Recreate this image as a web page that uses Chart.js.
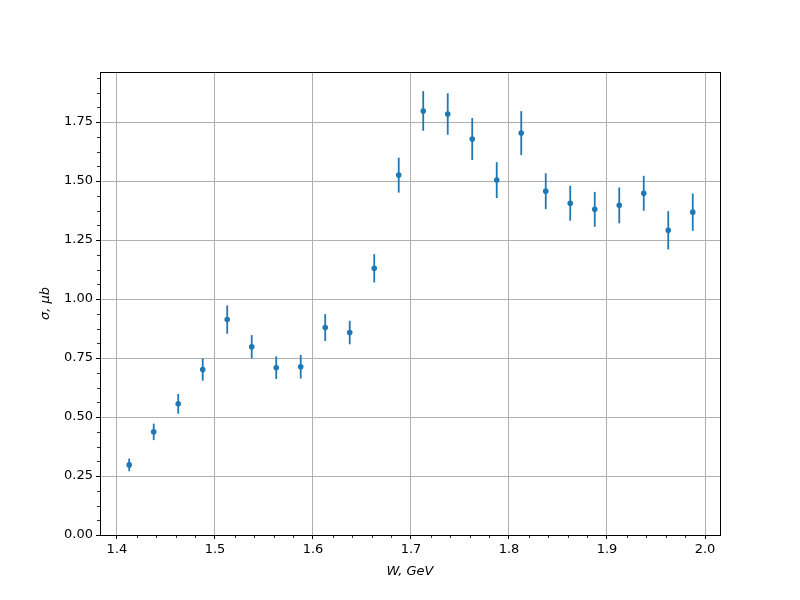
<!DOCTYPE html>
<html>
<head>
<meta charset="utf-8">
<script src="https://cdn.jsdelivr.net/npm/chart.js@4.4.0/dist/chart.umd.min.js"></script>
<style>
  html, body { margin: 0; padding: 0; background: #fff; }
  #wrap { width: 800px; height: 600px; }
</style>
</head>
<body>
<div id="wrap"><canvas id="chart" width="800" height="600"></canvas></div>
<script>
// W bins (GeV)
const wValues = [1.4125, 1.4375, 1.4625, 1.4875, 1.5125, 1.5375, 1.5625, 1.5875,
  1.6125, 1.6375, 1.6625, 1.6875, 1.7125, 1.7375, 1.7625, 1.7875,
  1.8125, 1.8375, 1.8625, 1.8875, 1.9125, 1.9375, 1.9625, 1.9875]
// cross section, mub
const sigma = [0.297, 0.437, 0.556, 0.701, 0.913, 0.798, 0.709, 0.713,
  0.879, 0.858, 1.130, 1.525, 1.797, 1.784, 1.678, 1.504,
  1.703, 1.457, 1.406, 1.380, 1.397, 1.448, 1.291, 1.368]
// symmetric errors
const sigmaErr = [0.027, 0.035, 0.042, 0.047, 0.060, 0.049, 0.048, 0.050,
  0.057, 0.050, 0.060, 0.074, 0.084, 0.088, 0.089, 0.076,
  0.093, 0.076, 0.074, 0.074, 0.076, 0.074, 0.081, 0.079]

const xTicks = [1.4, 1.5, 1.6, 1.7, 1.8, 1.9, 2.0]
const yTicks = [0, 0.25, 0.5, 0.75, 1.0, 1.25, 1.5, 1.75]
const xMinorStep = 0.02
const yMinorStep = 0.0625

const blue = "#1f77b4"
const font = "DejaVu Sans"

// error bars + minor ticks + full frame
const extras = {
  id: "extras",
  beforeDatasetsDraw(chart) {
    const ctx = chart.ctx
    const xs = chart.scales.x, ys = chart.scales.y
    ctx.save()
    ctx.strokeStyle = blue
    ctx.lineWidth = 1.8
    wValues.forEach((w, i) => {
      const px = xs.getPixelForValue(w)
      ctx.beginPath()
      ctx.moveTo(px, ys.getPixelForValue(sigma[i] - sigmaErr[i]))
      ctx.lineTo(px, ys.getPixelForValue(sigma[i] + sigmaErr[i]))
      ctx.stroke()
    })
    ctx.restore()
  },
  afterDraw(chart) {
    const ctx = chart.ctx
    const a = chart.chartArea
    const xs = chart.scales.x, ys = chart.scales.y
    ctx.save()
    ctx.strokeStyle = "#000"
    ctx.lineWidth = 0.8
    // minor ticks
    for (let k = Math.ceil(xs.min / xMinorStep); k * xMinorStep <= xs.max; k++) {
      const v = k * xMinorStep
      if (Math.abs(v * 10 - Math.round(v * 10)) < 1e-6) continue
      const px = Math.round(xs.getPixelForValue(v)) + 0.5
      ctx.beginPath(); ctx.moveTo(px, a.bottom); ctx.lineTo(px, a.bottom + 3); ctx.stroke()
    }
    for (let k = 0; k * yMinorStep <= ys.max; k++) {
      if (k % 4 === 0) continue
      const py = Math.round(ys.getPixelForValue(k * yMinorStep)) + 0.5
      ctx.beginPath(); ctx.moveTo(a.left, py); ctx.lineTo(a.left - 3, py); ctx.stroke()
    }
    // frame
    ctx.lineWidth = 1
    ctx.strokeRect(Math.round(a.left) + 0.5, Math.round(a.top) + 0.5,
      Math.round(a.right - a.left), Math.round(a.bottom - a.top))
    ctx.restore()
  }
}

new Chart(document.getElementById("chart"), {
  type: "scatter",
  data: {
    datasets: [{
      data: wValues.map((w, i) => ({ x: w, y: sigma[i] })),
      backgroundColor: blue,
      borderColor: blue,
      pointRadius: 2.8,
      pointHoverRadius: 2.8,
      borderWidth: 0
    }]
  },
  options: {
    responsive: false,
    animation: false,
    layout: { padding: { left: 30, top: 72, right: 80, bottom: 0 } },
    plugins: { legend: { display: false }, tooltip: { enabled: false } },
    scales: {
      x: {
        type: "linear",
        min: 1.3827,
        max: 2.0153,
        afterBuildTicks: (s) => { s.ticks = xTicks.map(v => ({ value: v })) },
        afterFit: (s) => { s.height = 65 },
        grid: { color: "#b0b0b0", lineWidth: 1, tickColor: "#000", tickLength: 4 },
        border: { color: "#000", width: 1 },
        ticks: { color: "#000", font: { family: font, size: 13 }, padding: 3, maxRotation: 0,
          callback: (v) => v.toFixed(1) },
        title: { display: true, text: "W, GeV", color: "#000",
          font: { family: font, size: 13, style: "italic" }, padding: { top: 0, bottom: 21 } }
      },
      y: {
        type: "linear",
        min: 0,
        max: 1.962,
        afterBuildTicks: (s) => { s.ticks = yTicks.map(v => ({ value: v })) },
        afterFit: (s) => { s.width = 70 },
        grid: { color: "#b0b0b0", lineWidth: 1, tickColor: "#000", tickLength: 4 },
        border: { color: "#000", width: 1 },
        ticks: { color: "#000", font: { family: font, size: 13 }, padding: 3,
          callback: (v) => v.toFixed(2) },
        title: { display: true, text: "σ, μb", color: "#000",
          font: { family: font, size: 13, style: "italic" }, padding: { top: 8, bottom: 0 } }
      }
    }
  },
  plugins: [extras]
})
</script>
</body>
</html>
